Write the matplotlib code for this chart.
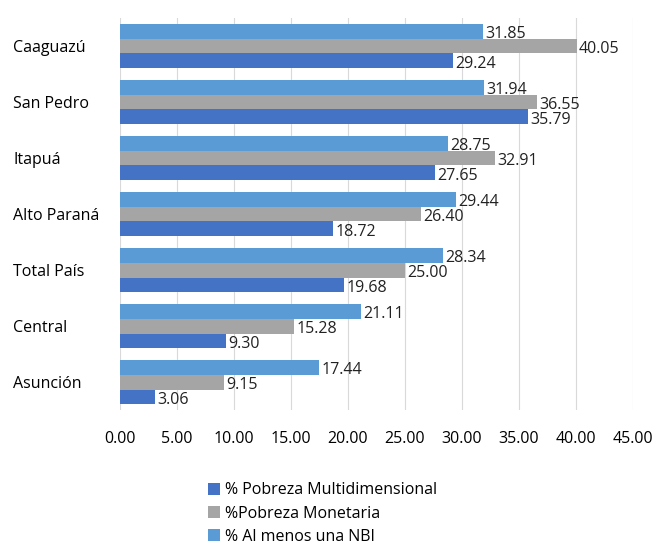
import numpy as np
import matplotlib
matplotlib.use("Agg")
import matplotlib.pyplot as plt

plt.rcParams['font.family'] = ['Open Sans', 'DejaVu Sans']

# categories from bottom to top (barh draws bottom first)
regiones = ['Asunción', 'Central', 'Total País', 'Alto Paraná', 'Itapuá', 'San Pedro', 'Caaguazú']
multidim = [3.06, 9.30, 19.68, 18.72, 27.65, 35.79, 29.24]
monetaria = [9.15, 15.28, 25.00, 26.40, 32.91, 36.55, 40.05]
nbi = [17.44, 21.11, 28.34, 29.44, 28.75, 31.94, 31.85]

series = [
    ('% Pobreza Multidimensional', multidim, '#4472C4'),
    ('%Pobreza Monetaria', monetaria, '#A5A5A5'),
    ('% Al menos una NBI', nbi, '#5B9BD5'),
]

fs = 11.5
fig = plt.figure(figsize=(6.6, 5.44), dpi=100)
ax = fig.add_axes([0.182, 0.246, 0.777, 0.721])

y = np.arange(len(regiones))
h = 0.265
for i, (name, vals, col) in enumerate(series):
    pos = y + (i - 1) * h
    ax.barh(pos, vals, height=h, color=col, label=name, zorder=3)
    for p, v in zip(pos, vals):
        ax.text(v + 0.2, p - 0.05, f'{v:.2f}', va='center', ha='left',
                fontsize=fs, color='#222222', zorder=4)

ax.set_xlim(0, 45)
ax.set_xticks(np.arange(0, 46, 5))
ax.set_xticklabels([f'{t:.2f}' for t in np.arange(0, 46, 5)], fontsize=fs)
ax.set_yticks(y)
ax.set_yticklabels(regiones, fontsize=fs, ha='left')
ax.set_ylim(-0.5, len(regiones) - 0.5)
ax.grid(axis='x', color='#D9D9D9', linewidth=0.8, zorder=0)
for s in ax.spines.values():
    s.set_visible(False)
ax.tick_params(axis='x', length=0, pad=15)
ax.tick_params(axis='y', length=0, pad=77)

handles, labels = ax.get_legend_handles_labels()
fig.legend(handles, labels, loc='upper left', bbox_to_anchor=(0.305, 0.125),
           frameon=False, fontsize=fs, handlelength=0.8, handleheight=0.8,
           handletextpad=0.3, labelspacing=0.45, borderaxespad=0)

fig.savefig('out.png', dpi=100)
